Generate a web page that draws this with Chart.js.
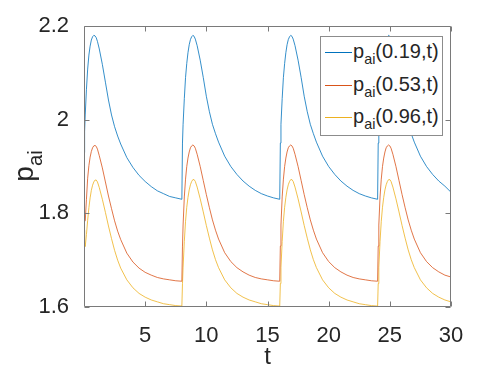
<!DOCTYPE html>
<html>
<head>
<meta charset="utf-8">
<script src="https://cdn.jsdelivr.net/npm/chart.js@4.4.1/dist/chart.umd.min.js"></script>
<style>
  body { margin: 0; background: #fff; }
  #wrap { position: relative; width: 498px; height: 374px; font-family: "Liberation Sans", Arial, sans-serif; color: #262626; }
  #ylab { position: absolute; left: -26px; top: 146px; width: 100px; height: 40px; line-height: 40px; text-align: center;
          font-size: 28px; transform: rotate(-90deg); white-space: nowrap; }
  #ylab span, .leg span { font-size: 0.72em; position: relative; top: 0.45em; }
  #legend { position: absolute; left: 320px; top: 36px; width: 121px; height: 98px; background: #fff; border: 1px solid #8c8c8c; }
  .leg { position: absolute; left: 32px; height: 20px; line-height: 20px; font-size: 20px; white-space: nowrap; }
  .sample { position: absolute; left: 4px; width: 27px; height: 0; border-top: 1px solid; }
</style>
</head>
<body>
<div id="wrap">
  <canvas id="canvas" width="498" height="374"></canvas>
  <div id="ylab">p<span>ai</span></div>
  <div id="legend"></div>
</div>
<script>
// time axis (t)
var t = [
  0, 0.05, 0.1, 0.2, 0.3, 0.4, 0.5, 0.6, 0.7, 0.8, 0.9, 1, 1.1, 1.25, 1.5, 1.75, 2, 2.25, 2.5, 2.75, 3, 3.5, 4, 4.5, 5, 5.5, 6, 6.5, 7, 7.5,
  8, 8.05, 8.1, 8.2, 8.3, 8.4, 8.5, 8.6, 8.7, 8.8, 8.9, 9, 9.1, 9.25, 9.5, 9.75, 10, 10.25, 10.5, 10.75, 11, 11.5, 12, 12.5, 13, 13.5, 14, 14.5, 15, 15.5,
  16, 16.05, 16.1, 16.2, 16.3, 16.4, 16.5, 16.6, 16.7, 16.8, 16.9, 17, 17.1, 17.25, 17.5, 17.75, 18, 18.25, 18.5, 18.75, 19, 19.5, 20, 20.5, 21, 21.5, 22, 22.5, 23, 23.5,
  24, 24.05, 24.1, 24.2, 24.3, 24.4, 24.5, 24.6, 24.7, 24.8, 24.9, 25, 25.1, 25.25, 25.5, 25.75, 26, 26.25, 26.5, 26.75, 27, 27.5, 28, 28.5, 29, 29.5, 30
];

// p_ai(0.19,t)
var p019 = [
  1.93, 1.975, 2.01, 2.065, 2.108, 2.138, 2.157, 2.17, 2.177, 2.18, 2.179, 2.175, 2.167, 2.151, 2.118, 2.08, 2.042, 2.01, 1.985, 1.965, 1.948, 1.919, 1.898, 1.881, 1.868, 1.857, 1.848, 1.842, 1.836, 1.833,
  1.83, 1.95, 1.99, 2.045, 2.09, 2.12, 2.143, 2.16, 2.171, 2.177, 2.18, 2.178, 2.172, 2.158, 2.127, 2.09, 2.05, 2.017, 1.99, 1.97, 1.952, 1.922, 1.9, 1.883, 1.869, 1.858, 1.849, 1.842, 1.837, 1.833,
  1.83, 1.95, 1.99, 2.045, 2.09, 2.12, 2.143, 2.16, 2.171, 2.177, 2.18, 2.178, 2.172, 2.158, 2.127, 2.09, 2.05, 2.017, 1.99, 1.97, 1.952, 1.922, 1.9, 1.883, 1.869, 1.858, 1.849, 1.842, 1.837, 1.833,
  1.83, 1.95, 1.99, 2.045, 2.09, 2.12, 2.143, 2.16, 2.171, 2.177, 2.18, 2.178, 2.172, 2.158, 2.127, 2.09, 2.05, 2.017, 1.99, 1.97, 1.952, 1.922, 1.9, 1.883, 1.869, 1.858, 1.845
];

// p_ai(0.53,t)
var p053 = [
  1.795, 1.785, 1.784, 1.83, 1.875, 1.902, 1.92, 1.932, 1.94, 1.944, 1.945, 1.943, 1.937, 1.923, 1.897, 1.867, 1.837, 1.81, 1.784, 1.762, 1.744, 1.715, 1.696, 1.683, 1.674, 1.668, 1.663, 1.66, 1.658, 1.656,
  1.655, 1.73, 1.775, 1.835, 1.873, 1.9, 1.918, 1.931, 1.94, 1.944, 1.946, 1.944, 1.939, 1.926, 1.9, 1.87, 1.84, 1.812, 1.786, 1.764, 1.745, 1.716, 1.697, 1.684, 1.675, 1.668, 1.663, 1.66, 1.658, 1.656,
  1.655, 1.73, 1.775, 1.835, 1.873, 1.9, 1.918, 1.931, 1.94, 1.944, 1.946, 1.944, 1.939, 1.926, 1.9, 1.87, 1.84, 1.812, 1.786, 1.764, 1.745, 1.716, 1.697, 1.684, 1.675, 1.668, 1.663, 1.66, 1.658, 1.656,
  1.655, 1.73, 1.775, 1.835, 1.873, 1.9, 1.918, 1.931, 1.94, 1.944, 1.946, 1.944, 1.939, 1.926, 1.9, 1.87, 1.84, 1.812, 1.786, 1.764, 1.745, 1.716, 1.697, 1.684, 1.675, 1.668, 1.664
];

// p_ai(0.96,t)
var p096 = [
  1.764, 1.735, 1.729, 1.755, 1.785, 1.812, 1.833, 1.849, 1.86, 1.867, 1.871, 1.871, 1.867, 1.855, 1.83, 1.802, 1.773, 1.746, 1.721, 1.7, 1.683, 1.658, 1.641, 1.629, 1.621, 1.615, 1.611, 1.607, 1.605, 1.603,
  1.602, 1.65, 1.685, 1.74, 1.783, 1.813, 1.834, 1.85, 1.861, 1.868, 1.872, 1.872, 1.868, 1.856, 1.831, 1.803, 1.774, 1.747, 1.722, 1.701, 1.684, 1.658, 1.641, 1.629, 1.621, 1.615, 1.611, 1.607, 1.605, 1.603,
  1.602, 1.65, 1.685, 1.74, 1.783, 1.813, 1.834, 1.85, 1.861, 1.868, 1.872, 1.872, 1.868, 1.856, 1.831, 1.803, 1.774, 1.747, 1.722, 1.701, 1.684, 1.658, 1.641, 1.629, 1.621, 1.615, 1.611, 1.607, 1.605, 1.603,
  1.602, 1.65, 1.685, 1.74, 1.783, 1.813, 1.834, 1.85, 1.861, 1.868, 1.872, 1.872, 1.868, 1.856, 1.831, 1.803, 1.774, 1.747, 1.722, 1.701, 1.684, 1.658, 1.641, 1.629, 1.621, 1.615, 1.611
];

var xTicks = [5, 10, 15, 20, 25, 30];
var yTicks = [1.6, 1.8, 2, 2.2];
var names = ['0.19', '0.53', '0.96'];
var colors = ['#0072bd', '#d95319', '#edb120'];
var axisColor = '#7a7a7a';

function pts(vals) {
    return t.map(function (x, i) { return { x: x, y: vals[i] }; });
}

// box round the axes with inward ticks, like the original
var frame = {
    id: 'frame',
    afterDatasetsDraw: function (chart) {
        var ctx = chart.ctx, a = chart.chartArea;
        var xs = chart.scales.x, ys = chart.scales.y;
        var l = Math.round(a.left) + 0.5, r = Math.round(a.right) - 0.5;
        var tp = Math.round(a.top) + 0.5, b = Math.round(a.bottom) - 0.5;
        ctx.save();
        ctx.strokeStyle = axisColor;
        ctx.lineWidth = 1;
        ctx.beginPath();
        ctx.rect(l, tp, r - l, b - tp);
        xs.ticks.forEach(function (tk) {
            var px = Math.round(xs.getPixelForValue(tk.value)) + 0.5;
            ctx.moveTo(px, b); ctx.lineTo(px, b - 5);
            ctx.moveTo(px, tp); ctx.lineTo(px, tp + 5);
        });
        ys.ticks.forEach(function (tk) {
            var py = Math.round(ys.getPixelForValue(tk.value)) + 0.5;
            ctx.moveTo(l, py); ctx.lineTo(l + 5, py);
            ctx.moveTo(r, py); ctx.lineTo(r - 5, py);
        });
        ctx.stroke();
        ctx.restore();
    }
};

var datasets = [p019, p053, p096].map(function (vals, i) {
    return {
        label: 'p_ai(' + names[i] + ',t)',
        data: pts(vals),
        borderColor: colors[i],
        borderWidth: 0.8,
        pointRadius: 0,
        tension: 0,
        fill: false
    };
});

var tickFont = { family: '"Liberation Sans", Arial, sans-serif', size: 22 };

var ctx = canvas.getContext('2d');
var chart = new Chart(ctx, {
    type: 'line',
    data: { datasets: datasets },
    options: {
        responsive: false,
        animation: false,
        layout: { padding: { left: 0, right: 47, top: 26, bottom: 0 } },
        plugins: { legend: { display: false }, tooltip: { enabled: false } },
        scales: {
            x: {
                type: 'linear', min: 0, max: 30,
                afterBuildTicks: function (s) { s.ticks = xTicks.map(function (v) { return { value: v }; }); },
                afterFit: function (s) { s.height = 67; },
                grid: { display: false }, border: { display: false },
                ticks: { font: tickFont, color: '#262626', padding: 8, maxRotation: 0, autoSkip: false },
                title: { display: true, text: 't', color: '#262626', font: { family: tickFont.family, size: 24 }, padding: { top: 0, bottom: 2 } }
            },
            y: {
                type: 'linear', min: 1.6, max: 2.2,
                afterBuildTicks: function (s) { s.ticks = yTicks.map(function (v) { return { value: v }; }); },
                afterFit: function (s) { s.width = 84; },
                grid: { display: false }, border: { display: false },
                ticks: { font: tickFont, color: '#262626', padding: 7, callback: function (v) { return String(v); } }
            }
        }
    },
    plugins: [frame]
});

// legend with subscripts, built from the same names and colours
var legend = document.getElementById('legend');
var rowY = [15, 48, 80];
names.forEach(function (n, i) {
    var s = document.createElement('div');
    s.className = 'sample';
    s.style.top = rowY[i] + 'px';
    s.style.borderTopColor = colors[i];
    legend.appendChild(s);
    var d = document.createElement('div');
    d.className = 'leg';
    d.style.top = (rowY[i] - 11) + 'px';
    d.innerHTML = 'p<span>ai</span>(' + n + ',t)';
    legend.appendChild(d);
});
</script>
</body>
</html>
